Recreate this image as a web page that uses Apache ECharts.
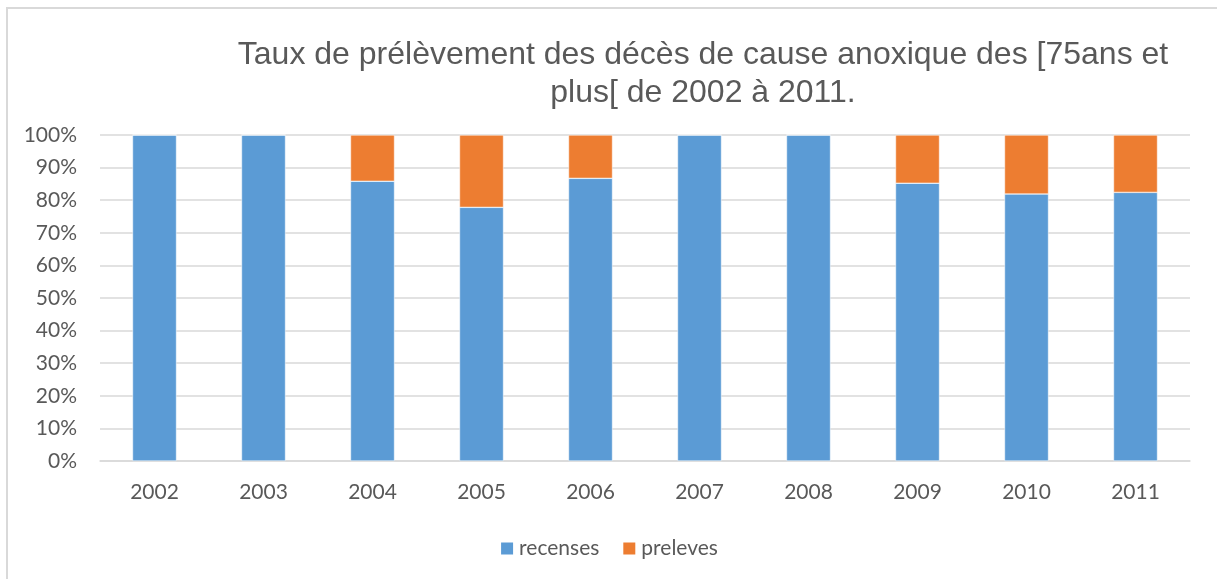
<!DOCTYPE html>
<html>
<head>
<meta charset="utf-8">
<script src="https://cdn.jsdelivr.net/npm/echarts@6/dist/echarts.min.js"></script>
<style>
  html, body { margin: 0; padding: 0; background: #fff; }
  #frame {
    position: absolute; left: 6px; top: 7px;
    width: 1230px; height: 600px;
    border: 2px solid #d9d9d9; box-sizing: border-box;
  }
  #chart { position: absolute; left: 0; top: 0; width: 1217px; height: 579px; }
</style>
</head>
<body>
<div id="frame"></div>
<div id="chart"></div>
<script>
// Années
const years = ['2002', '2003', '2004', '2005', '2006', '2007', '2008', '2009', '2010', '2011'];
// Part des décès recensés (%)
const recenses = [100, 100, 85.8, 77.8, 86.7, 100, 100, 85.2, 81.9, 82.4];
// Part des décès prélevés (%)
const preleves = [0, 0, 14.2, 22.2, 13.3, 0, 0, 14.8, 18.1, 17.6];

const chart = echarts.init(document.getElementById('chart'));

const textColor = '#595959';
const labelFont = 'Lato, "Open Sans", sans-serif';

const option = {
  animation: false,
  title: {
    text: 'Taux de prélèvement des décès de cause anoxique des [75ans et\nplus[ de 2002 à 2011.',
    left: 698,
    top: 31,
    textAlign: 'center',
    textStyle: {
      color: textColor,
      fontFamily: '"Liberation Sans", Arial, sans-serif',
      fontWeight: 'normal',
      fontSize: 32,
      lineHeight: 38
    }
  },
  legend: {
    data: ['recenses', 'preleves'],
    left: 'center',
    top: 533,
    itemWidth: 14,
    itemHeight: 14,
    itemGap: 22,
    icon: 'rect',
    textStyle: { color: textColor, fontSize: 21, fontFamily: labelFont }
  },
  grid: {
    left: 100,
    right: 27,
    top: 135,
    bottom: 118
  },
  xAxis: {
    type: 'category',
    data: years,
    axisTick: { show: false },
    axisLine: { lineStyle: { color: '#d9d9d9', width: 1.5 } },
    axisLabel: { color: textColor, fontSize: 21, fontFamily: labelFont, margin: 21 }
  },
  yAxis: {
    type: 'value',
    min: 0,
    max: 100,
    interval: 10,
    axisLine: { show: false },
    axisTick: { show: false },
    splitLine: { lineStyle: { color: '#d9d9d9', width: 1.5 } },
    axisLabel: {
      color: textColor, fontSize: 21, fontFamily: labelFont, margin: 23,
      formatter: '{value}%'
    }
  },
  series: [
    {
      name: 'recenses',
      type: 'bar',
      stack: 'total',
      barWidth: 44,
      itemStyle: { color: '#5b9bd5', borderColor: '#fff', borderWidth: 0.5 },
      data: recenses
    },
    {
      name: 'preleves',
      type: 'bar',
      stack: 'total',
      barWidth: 44,
      itemStyle: { color: '#ed7d31', borderColor: '#fff', borderWidth: 0.5 },
      data: preleves
    }
  ]
};

chart.setOption(option);
</script>
</body>
</html>
